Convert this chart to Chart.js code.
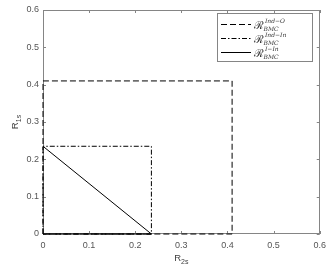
<!DOCTYPE html>
<html>
<head>
<meta charset="utf-8">
<script src="https://cdn.jsdelivr.net/npm/chart.js@4.4.1/dist/chart.umd.min.js"></script>
<style>
html,body{margin:0;padding:0;background:#fff;}
#wrap{width:332px;height:271px;position:relative;}
</style>
</head>
<body>
<div id="wrap"><canvas id="c" width="332" height="271"></canvas></div>
<script>
// ---- data ----
const xTicks = [0, 0.1, 0.2, 0.3, 0.4, 0.5, 0.6];
const yTicks = [0, 0.1, 0.2, 0.3, 0.4, 0.5, 0.6];
const indOX = [0, 0, 0.41, 0.41, 0];
const indOY = [0, 0.41, 0.41, 0, 0];
const indInX = [0, 0, 0.235, 0.235, 0];
const indInY = [0, 0.235, 0.235, 0, 0];
const jInX = [0, 0.235, 0];
const jInY = [0.235, 0, 0];
const seriesSup = ["Ind\u2212O", "Ind\u2212In", "I\u2212In"];
const seriesSub = "BMC";
const xTitle = ["R", "2s"];
const yTitle = ["R", "1s"];

function pts(xs, ys){ return xs.map((x,i)=>({x:x, y:ys[i]})); }
const dashes = [[6,3],[5,2,1.5,2],[]];
const SANS = '"Liberation Sans", Arial, sans-serif';

const overlay = {
  id:'overlay',
  beforeDatasetsDraw(chart){
    const ctx = chart.ctx, a = chart.chartArea;
    const xs = chart.scales.x, ys = chart.scales.y;
    ctx.save();
    ctx.strokeStyle = '#858585'; ctx.lineWidth = 1;
    ctx.setLineDash([]);
    ctx.strokeRect(Math.round(a.left)+0.5, Math.round(a.top)+0.5, Math.round(a.right-a.left)-1, Math.round(a.bottom-a.top)-1);
    ctx.beginPath();
    xTicks.forEach(v=>{
      const px = Math.round(xs.getPixelForValue(v))+0.5;
      ctx.moveTo(px, a.bottom); ctx.lineTo(px, a.bottom-3);
      ctx.moveTo(px, a.top); ctx.lineTo(px, a.top+3);
    });
    yTicks.forEach(v=>{
      const py = Math.round(ys.getPixelForValue(v))+0.5;
      ctx.moveTo(a.left, py); ctx.lineTo(a.left+3, py);
      ctx.moveTo(a.right, py); ctx.lineTo(a.right-3, py);
    });
    ctx.stroke();
    ctx.restore();
  },
  afterDatasetsDraw(chart){
    const ctx = chart.ctx, a = chart.chartArea;
    ctx.save();
    ctx.fillStyle = '#404040';
    ctx.textBaseline = 'alphabetic';
    ctx.textAlign = 'left';
    // x title
    ctx.font = '9.5px ' + SANS;
    const w1 = ctx.measureText(xTitle[0]).width;
    ctx.font = '7px ' + SANS;
    const w2 = ctx.measureText(xTitle[1]).width;
    const cx = (a.left+a.right)/2;
    let sx = cx - (w1+w2)/2;
    ctx.font = '9.5px ' + SANS;
    ctx.fillText(xTitle[0], sx, 261);
    ctx.font = '7px ' + SANS;
    ctx.fillText(xTitle[1], sx+w1, 264);
    // y title rotated
    ctx.save();
    const cy = (a.top+a.bottom)/2;
    ctx.translate(18, cy);
    ctx.rotate(-Math.PI/2);
    ctx.font = '9.5px ' + SANS;
    const v1 = ctx.measureText(yTitle[0]).width;
    ctx.font = '7px ' + SANS;
    const v2 = ctx.measureText(yTitle[1]).width;
    let sy = -(v1+v2)/2;
    ctx.font = '9.5px ' + SANS;
    ctx.fillText(yTitle[0], sy, 0);
    ctx.font = '7px ' + SANS;
    ctx.fillText(yTitle[1], sy+v1, 3);
    ctx.restore();
    // legend
    const lx = 217.5, ly = 13.5, lw = 95, lh = 48;
    ctx.fillStyle = '#fff';
    ctx.fillRect(lx, ly, lw, lh);
    ctx.strokeStyle = '#858585'; ctx.lineWidth = 1;
    ctx.strokeRect(lx, ly, lw, lh);
    const rowsY = [24.5, 38.5, 52.5];
    rowsY.forEach((ry,i)=>{
      ctx.strokeStyle = '#000'; ctx.lineWidth = 1;
      ctx.setLineDash(dashes[i]);
      ctx.beginPath(); ctx.moveTo(221, ry); ctx.lineTo(251, ry); ctx.stroke();
      ctx.setLineDash([]);
      ctx.fillStyle = '#333';
      ctx.font = '11px "DejaVu Serif", serif';
      ctx.fillText('\u211B', 254, ry+4);
      const rw = ctx.measureText('\u211B').width;
      ctx.font = 'italic 6px "DejaVu Serif", serif';
      ctx.fillText(seriesSup[i], 254+rw+1, ry-1.5);
      ctx.fillText(seriesSub, 254+rw-0.5, ry+6);
    });
    ctx.restore();
  }
};

const mk = (label, xs, ys, i) => ({
  label: label, data: pts(xs, ys), borderColor:'#000', borderWidth:1,
  borderDash: dashes[i], pointRadius:0, fill:false, tension:0, showLine:true, clip:4
});

new Chart(document.getElementById('c'), {
  type:'scatter',
  data:{ datasets:[
    mk('Ind-O', indOX, indOY, 0),
    mk('Ind-In', indInX, indInY, 1),
    mk('I-In', jInX, jInY, 2)
  ]},
  options:{
    responsive:false, animation:false, devicePixelRatio:1,
    layout:{padding:{left:0, top:10, right:12, bottom:0}},
    plugins:{legend:{display:false}, tooltip:{enabled:false}},
    scales:{
      x:{ type:'linear', min:0, max:0.6,
        afterFit(s){ s.height = 37; },
        afterBuildTicks(s){ s.ticks = xTicks.map(v=>({value:v})); },
        grid:{display:false, drawTicks:false}, border:{display:false},
        ticks:{ padding:6, color:'#555', font:{size:9, family:SANS},
          maxRotation:0, callback:(v)=> String(Math.round(v*10)/10) } },
      y:{ type:'linear', min:0, max:0.6,
        afterFit(s){ s.width = 43; },
        afterBuildTicks(s){ s.ticks = yTicks.map(v=>({value:v})); },
        grid:{display:false, drawTicks:false}, border:{display:false},
        ticks:{ padding:4, color:'#555', font:{size:9, family:SANS},
          callback:(v)=> String(Math.round(v*10)/10) } }
    }
  },
  plugins:[overlay]
});
</script>
</body>
</html>
